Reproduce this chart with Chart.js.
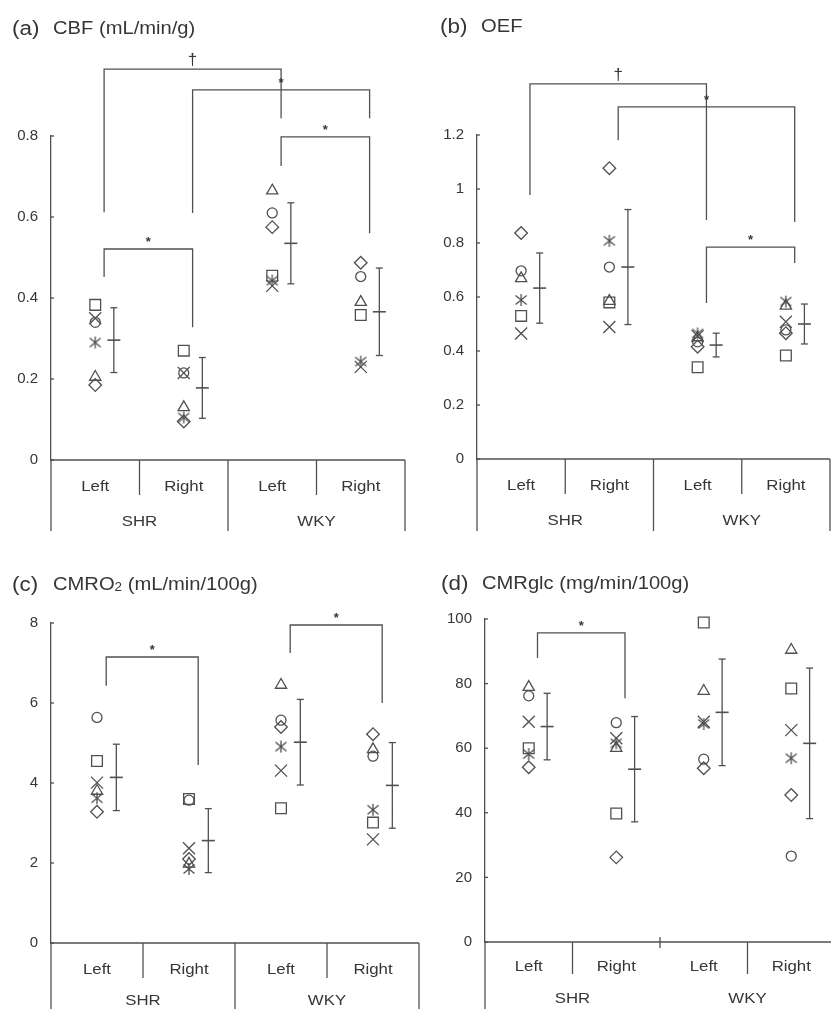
<!DOCTYPE html>
<html>
<head>
<meta charset="utf-8">
<script src="https://cdn.jsdelivr.net/npm/chart.js@4.4.1/dist/chart.umd.min.js"></script>
<style>
  html, body { margin: 0; padding: 0; background: #fff; overflow: hidden; }
  #page { position: relative; width: 831px; height: 1009px; overflow: hidden; }
  canvas { position: absolute; }
</style>
</head>
<body>
<div id="page">
  <canvas id="cbf" width="415" height="540" style="left:0;top:0"></canvas>
  <canvas id="oef" width="425" height="540" style="left:415px;top:0"></canvas>
  <canvas id="cmro2" width="429" height="469" style="left:0;top:540px"></canvas>
  <canvas id="cmrglc" width="425" height="469" style="left:420px;top:540px"></canvas>
</div>
<script>
// categories: SHR-Left, SHR-Right, WKY-Left, WKY-Right
const sides = ['Left', 'Right', 'Left', 'Right'];
const strains = ['SHR', 'WKY'];

// (a) CBF (mL/min/g)
const cbfCircle   = [0.34, 0.215, 0.61, 0.453];
const cbfSquare   = [0.383, 0.27, 0.455, 0.358];
const cbfTriangle = [0.205, 0.13, 0.665, 0.39];
const cbfDiamond  = [0.185, 0.095, 0.575, 0.487];
const cbfCross    = [0.35, 0.215, 0.43, 0.23];
const cbfStar     = [0.29, 0.105, 0.443, 0.243];
const cbfMean = [0.296, 0.178, 0.535, 0.366];
const cbfSd   = [0.08, 0.075, 0.1, 0.108];
const cbfTicks = [0, 0.2, 0.4, 0.6, 0.8];
const cbfSig = [
  { from: 0, to: 2, top: 0.965, legs: [0.612, 0.844], mark: '†' },
  { from: 1, to: 3, top: 0.914, legs: [0.61, 0.844], mark: '*' },
  { from: 2, to: 3, top: 0.798, legs: [0.726, 0.56], mark: '*' },
  { from: 0, to: 1, top: 0.521, legs: [0.452, 0.328], mark: '*' }
];

// (b) OEF
const oefCircle   = [0.697, 0.711, 0.434, 0.478];
const oefSquare   = [0.53, 0.58, 0.34, 0.383];
const oefTriangle = [0.669, 0.585, 0.45, 0.567];
const oefDiamond  = [0.837, 1.077, 0.416, 0.466];
const oefCross    = [0.465, 0.489, 0.455, 0.508];
const oefStar     = [0.589, 0.808, 0.465, 0.583];
const oefMean = [0.633, 0.711, 0.422, 0.5];
const oefSd   = [0.13, 0.213, 0.044, 0.074];
const oefTicks = [0, 0.2, 0.4, 0.6, 0.8, 1, 1.2];
const oefSig = [
  { from: 0, to: 2, top: 1.389, legs: [0.978, 0.885], mark: '†' },
  { from: 1, to: 3, top: 1.304, legs: [1.181, 0.878], mark: '*' },
  { from: 2, to: 3, top: 0.785, legs: [0.578, 0.726], mark: '*' }
];

// (c) CMRO2 (mL/min/100g)
const cmro2Circle   = [5.64, 3.57, 5.57, 4.67];
const cmro2Square   = [4.55, 3.6, 3.37, 3.01];
const cmro2Triangle = [3.8, 1.98, 6.45, 4.84];
const cmro2Diamond  = [3.28, 2.1, 5.4, 5.22];
const cmro2Cross    = [4.01, 2.37, 4.31, 2.59];
const cmro2Star     = [3.62, 1.85, 4.91, 3.33];
const cmro2Mean = [4.14, 2.56, 5.02, 3.94];
const cmro2Sd   = [0.83, 0.8, 1.07, 1.07];
const cmro2Ticks = [0, 2, 4, 6, 8];
const cmro2Sig = [
  { from: 0, to: 1, top: 7.15, legs: [6.43, 4.45], mark: '*' },
  { from: 2, to: 3, top: 7.95, legs: [7.25, 6.0], mark: '*' }
];

// (d) CMRglc (mg/min/100g)
const glcCircle   = [76.2, 67.9, 56.6, 26.6];
const glcSquare   = [60.0, 39.8, 98.9, 78.5];
const glcTriangle = [78.9, 60.0, 77.7, 90.4];
const glcDiamond  = [54.1, 26.2, 53.8, 45.5];
const glcCross    = [68.2, 63.1, 68.2, 65.6];
const glcStar     = [58.2, 61.5, 67.5, 56.9];
const glcMean = [66.7, 53.5, 71.1, 61.5];
const glcSd   = [10.3, 16.3, 16.5, 23.3];
const glcTicks = [0, 20, 40, 60, 80, 100];
const glcSig = [
  { from: 0, to: 1, top: 95.7, legs: [87.9, 75.5], mark: '*' }
];

const LINE = '#505050';
const TEXT = '#363636';
const FONT = '"Liberation Sans", Arial, sans-serif';
const BAR = 0.21;   // mean/SD bar sits right of the points
const LEG = 0.1;    // bracket legs
const SX = 1.12;    // text in the figure is a bit wide

Chart.defaults.font.family = FONT;

function asterisk() {
  const c = document.createElement('canvas');
  c.width = c.height = 14;
  const g = c.getContext('2d');
  g.strokeStyle = LINE;
  g.lineWidth = 1.3;
  g.beginPath();
  g.moveTo(7, 1); g.lineTo(7, 13);
  g.moveTo(1.5, 2.5); g.lineTo(12.5, 11.5);
  g.moveTo(1.5, 11.5); g.lineTo(12.5, 2.5);
  g.stroke();
  return c;
}

const shapes = [
  { style: 'circle', r: 5 },
  { style: 'rect', r: 7.6 },
  { style: 'triangle', r: 6.5 },
  { style: 'rectRot', r: 6.3 },
  { style: 'crossRot', r: 8.5 },
  { style: asterisk(), r: 6 }
];

function wideText(ctx, text, x, y, size, align) {
  ctx.save();
  ctx.font = size + 'px ' + FONT;
  ctx.translate(x, y);
  ctx.scale(SX, 1);
  ctx.textAlign = align;
  ctx.fillText(text, 0, 0);
  const w = ctx.measureText(text).width * SX;
  ctx.restore();
  return w;
}

function seg(ctx, x1, y1, x2, y2) {
  ctx.beginPath();
  ctx.moveTo(x1, y1);
  ctx.lineTo(x2, y2);
  ctx.stroke();
}

const decor = {
  id: 'decor',
  afterDraw(chart, args, o) {
    const { ctx, chartArea: ca, scales: { x, y } } = chart;
    const y0 = y.getPixelForValue(0);
    ctx.save();
    ctx.strokeStyle = LINE;
    ctx.fillStyle = TEXT;
    ctx.lineWidth = 1.3;

    // x axis line and small inward y ticks
    seg(ctx, ca.left, y0, ca.right, y0);
    y.ticks.forEach(t => {
      const py = y.getPixelForValue(t.value);
      seg(ctx, ca.left, py, ca.left + 3, py);
    });

    // category / group dividers below the axis
    for (let k = 0; k <= 4; k++) {
      const px = x.getPixelForValue(k - 0.5);
      if (k % 2) seg(ctx, px, y0, px, y0 + o.innerLen);
      else if (k === 2 && o.shortMid) seg(ctx, px, y0 - 5, px, y0 + 6);
      else seg(ctx, px, y0, px, o.groupBottom);
    }

    ctx.textBaseline = 'middle';
    sides.forEach((s, i) => wideText(ctx, s, x.getPixelForValue(i), y0 + o.catDy, 15, 'center'));
    strains.forEach((s, g) => wideText(ctx, s, x.getPixelForValue(g * 2 + 0.5), y0 + o.grpDy, 15, 'center'));

    // significance brackets
    o.sig.forEach(s => {
      const xa = x.getPixelForValue(s.from + LEG);
      const xb = x.getPixelForValue(s.to + LEG);
      const yt = y.getPixelForValue(s.top);
      ctx.beginPath();
      ctx.moveTo(xa, y.getPixelForValue(s.legs[0]));
      ctx.lineTo(xa, yt);
      ctx.lineTo(xb, yt);
      ctx.lineTo(xb, y.getPixelForValue(s.legs[1]));
      ctx.stroke();
      ctx.textAlign = 'center';
      ctx.textBaseline = 'alphabetic';
      if (s.mark === '*') {
        ctx.font = 'bold 13px ' + FONT;
        ctx.fillText('*', (xa + xb) / 2, yt - 3);
      } else {
        ctx.font = '17px ' + FONT;
        ctx.fillText(s.mark, (xa + xb) / 2, yt - 4);
      }
    });

    // panel title
    ctx.textBaseline = 'middle';
    wideText(ctx, o.label, o.titleX, o.titleY, 20, 'left');
    let tx = o.titleX + 41;
    o.title.forEach(([t, size, dy]) => {
      tx += wideText(ctx, t, tx, o.titleY + dy, size, 'left');
    });
    ctx.restore();
  }
};

function makePanel(id, p) {
  const pts = (vals) => vals.map((v, i) => ({ x: i, y: v }));
  const datasets = p.points.map((vals, k) => ({
    data: pts(vals),
    pointStyle: shapes[k].style,
    pointRadius: shapes[k].r,
    pointBorderColor: LINE,
    pointBackgroundColor: 'rgba(0,0,0,0)',
    pointBorderWidth: 1.3,
    showLine: false,
    clip: false
  }));
  const whisk = [];
  const caps = [];
  p.mean.forEach((m, i) => {
    whisk.push({ x: i + BAR, y: m - p.sd[i] }, { x: i + BAR, y: m + p.sd[i] }, { x: i + BAR, y: null });
    caps.push({ x: i + BAR, y: m - p.sd[i] }, { x: i + BAR, y: m + p.sd[i] });
  });
  datasets.push({
    data: whisk, showLine: true, spanGaps: false, borderColor: LINE, borderWidth: 1.3,
    pointRadius: 0, clip: false
  });
  datasets.push({
    data: caps, pointStyle: 'line', pointRadius: 3.5, pointBorderColor: LINE,
    pointBorderWidth: 1.3, showLine: false, clip: false
  });
  datasets.push({
    data: p.mean.map((m, i) => ({ x: i + BAR, y: m })), pointStyle: 'line', pointRadius: 6.5,
    pointBorderColor: LINE, pointBorderWidth: 1.6, showLine: false, clip: false
  });

  return new Chart(document.getElementById(id), {
    type: 'scatter',
    data: { datasets },
    plugins: [decor],
    options: {
      responsive: false,
      devicePixelRatio: 1,
      animation: false,
      events: [],
      layout: { padding: p.pad },
      plugins: {
        legend: { display: false },
        tooltip: { enabled: false },
        decor: p.decor
      },
      scales: {
        x: { type: 'linear', min: -0.5, max: 3.5, display: false },
        y: {
          type: 'linear',
          min: 0,
          max: p.ticks[p.ticks.length - 1],
          afterBuildTicks: s => { s.ticks = p.ticks.map(v => ({ value: v })); },
          afterFit: s => { s.width = p.axisX; },
          grid: { display: false, drawTicks: false },
          border: { display: true, color: LINE, width: 1.3 },
          ticks: { color: TEXT, font: { size: 15 }, padding: 13, callback: v => String(v) }
        }
      }
    }
  });
}

makePanel('cbf', {
  points: [cbfCircle, cbfSquare, cbfTriangle, cbfDiamond, cbfCross, cbfStar],
  mean: cbfMean, sd: cbfSd, ticks: cbfTicks, axisX: 51,
  pad: { left: 0, top: 136, right: 10, bottom: 80 },
  decor: { sig: cbfSig, label: '(a)', title: [['CBF (mL/min/g)', 18, 0]], titleX: 12, titleY: 29.5,
    innerLen: 35, groupBottom: 531, catDy: 27, grpDy: 62, shortMid: false }
});

makePanel('oef', {
  points: [oefCircle, oefSquare, oefTriangle, oefDiamond, oefCross, oefStar],
  mean: oefMean, sd: oefSd, ticks: oefTicks, axisX: 62,
  pad: { left: 0, top: 135, right: 10, bottom: 81 },
  decor: { sig: oefSig, label: '(b)', title: [['OEF', 18, 0]], titleX: 25, titleY: 27,
    innerLen: 35, groupBottom: 531, catDy: 27, grpDy: 62, shortMid: false }
});

makePanel('cmro2', {
  points: [cmro2Circle, cmro2Square, cmro2Triangle, cmro2Diamond, cmro2Cross, cmro2Star],
  mean: cmro2Mean, sd: cmro2Sd, ticks: cmro2Ticks, axisX: 51,
  pad: { left: 0, top: 83, right: 10, bottom: 66 },
  decor: { sig: cmro2Sig, label: '(c)', title: [['CMRO', 18, 0], ['2', 12, 3], [' (mL/min/100g)', 18, 0]],
    titleX: 12, titleY: 45, innerLen: 35, groupBottom: 469, catDy: 27, grpDy: 58, shortMid: false }
});

makePanel('cmrglc', {
  points: [glcCircle, glcSquare, glcTriangle, glcDiamond, glcCross, glcStar],
  mean: glcMean, sd: glcSd, ticks: glcTicks, axisX: 65,
  pad: { left: 0, top: 79, right: 10, bottom: 67 },
  decor: { sig: glcSig, label: '(d)', title: [['CMRglc (mg/min/100g)', 18, 0]], titleX: 21, titleY: 44,
    innerLen: 32, groupBottom: 469, catDy: 25, grpDy: 57, shortMid: true }
});
</script>
</body>
</html>
